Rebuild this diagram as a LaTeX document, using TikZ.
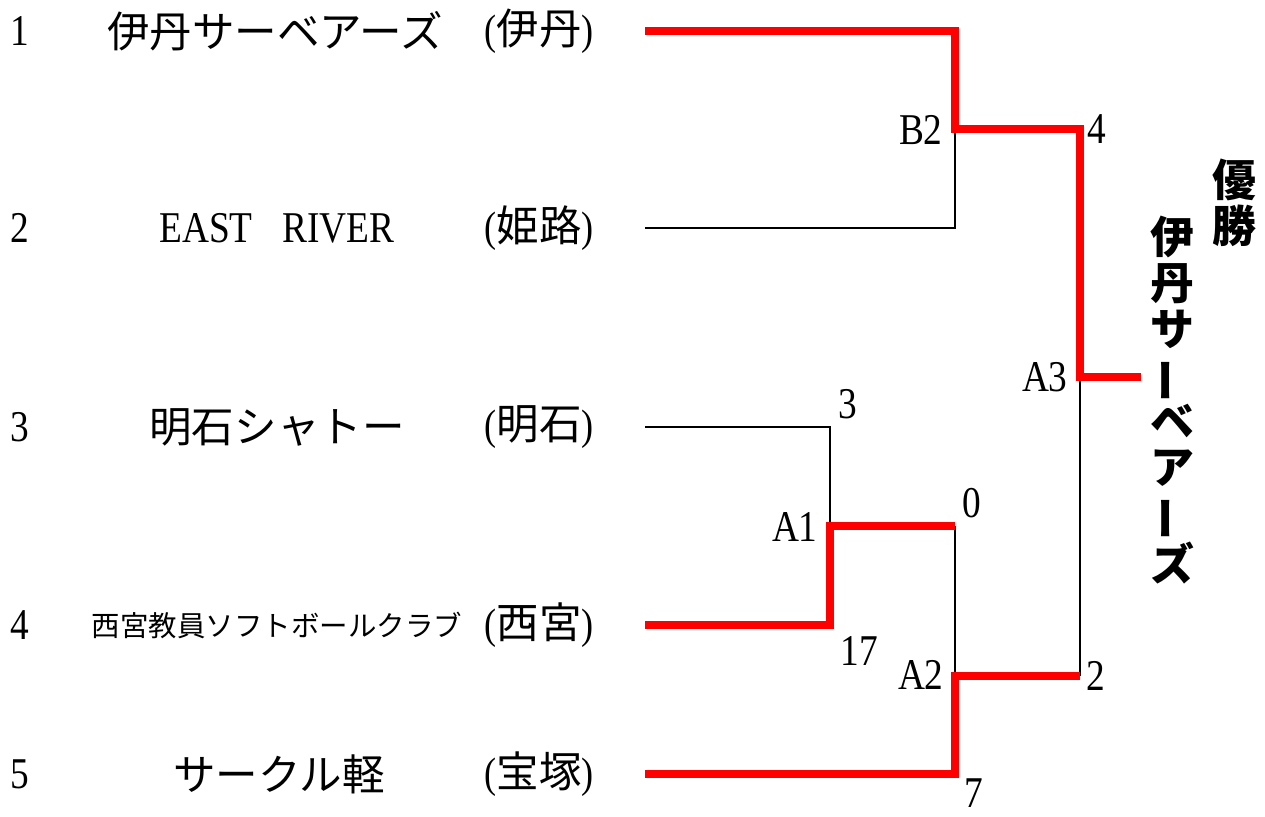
\documentclass[tikz,border=0pt]{standalone}
\usepackage{fontspec}
\setmainfont{Noto Sans CJK JP}
\newfontfamily\numfont[FakeStretch=0.85]{Liberation Serif}
\newcommand{\cityname}[1]{{\numfont(}#1{\numfont)}}
\newcommand{\vbar}{\rotatebox[origin=c]{90}{ー}}

\begin{document}
\begin{tikzpicture}[x=0.02cm,y=-0.02cm,
  team/.style={inner sep=0pt,font=\fontsize{24.2}{29}\selectfont},
  small team/.style={inner sep=0pt,font=\fontsize{16.2}{20}\selectfont},
  num/.style={inner sep=0pt,font=\numfont\fontsize{25}{30}\selectfont},
  champion/.style={inner sep=0pt,align=center,font=\bfseries\fontsize{25}{26.2}\selectfont},
  lose/.style={line width=1.6pt},
  win/.style={red,line width=4.5pt,line join=miter}]
\useasboundingbox (0,0) rectangle (1265,816);
% seed numbers
\node[num] (n1) at (20,31) {1};
\node[num] (n2) at (20,228) {2};
\node[num] (n3) at (20,427) {3};
\node[num] (n4) at (20,625) {4};
\node[num] (n5) at (20,774) {5};
% team names
\node[team] (t1) at (275,31) {伊丹サーベアーズ};
\node[num] (t2) at (277,228) {EAST\hspace{0.6cm}RIVER};
\node[team] (t3) at (277,427) {明石シャトー};
\node[small team] (t4) at (277,625) {西宮教員ソフトボールクラブ};
\node[team] (t5) at (279,774) {サークル軽};
% home towns
\node[team] (c1) at (539,31) {\cityname{伊丹}};
\node[team] (c2) at (539,228) {\cityname{姫路}};
\node[team] (c3) at (539,427) {\cityname{明石}};
\node[team] (c4) at (539,625) {\cityname{西宮}};
\node[team] (c5) at (539,774) {\cityname{宝塚}};
% bracket points
\coordinate (e1) at (645,31);
\coordinate (e2) at (645,228);
\coordinate (e3) at (645,427);
\coordinate (e4) at (645,625);
\coordinate (e5) at (645,774);
\coordinate (B2) at (955,129);
\coordinate (A1) at (830,526);
\coordinate (A2) at (955,676);
\coordinate (A3) at (1080,377);
\coordinate (champ) at (1141,377);
% losing lines
\draw[lose] (e2) -| (B2);
\draw[lose] (e3) -| (A1);
\draw[lose] (A1 -| A2) -- (A2);
\draw[lose] (A3) -- (A2 -| A3);
% winning lines
\draw[win] (e1) -| (B2) -| (A3) -- (champ);
\draw[win] (e4) -| (A1) -- (A1 -| A2);
\draw[win] (e5) -| (A2) -- (A2 -| A3);
% game labels
\node[num,anchor=east] (gB2) at (943,130) {B2};
\node[num,anchor=east] (gA1) at (818,527) {A1};
\node[num,anchor=east] (gA2) at (944,675) {A2};
\node[num,anchor=east] (gA3) at (1068,377) {A3};
% scores
\node[num,anchor=west] (s4) at (1087,129) {4};
\node[num,anchor=west] (s3) at (838,404) {3};
\node[num,anchor=west] (s0) at (962,503) {0};
\node[num,anchor=west] (s17) at (840,651) {17};
\node[num,anchor=west] (s2) at (1086,676) {2};
\node[num,anchor=west] (s7) at (964,793) {7};
% champion
\node[champion] (title) at (1234,203) {優\\勝};
\node[champion] (winner) at (1172,400) {伊\\丹\\サ\\\vbar\\ベ\\ア\\\vbar\\ズ};
\end{tikzpicture}
\end{document}
